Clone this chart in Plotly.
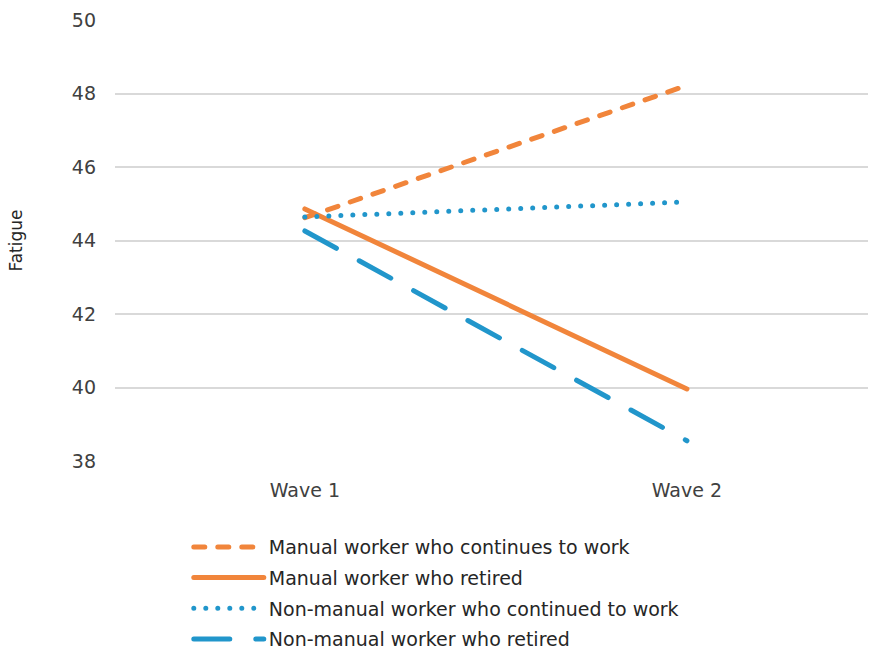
import plotly.graph_objects as go

# Fatigue scores at two survey waves, by occupation and retirement status
waves = ["Wave 1", "Wave 2"]
manual_continues = [44.62, 48.22]
manual_retired = [44.86, 39.96]
nonmanual_continued = [44.64, 45.05]
nonmanual_retired = [44.26, 38.55]

y_ticks = [38, 40, 42, 44, 46, 48, 50]

ORANGE = "#F1853B"
BLUE = "#2196CB"
FONT = "'DejaVu Sans', sans-serif"

series = [
    ("Manual worker who continues to work", manual_continues, ORANGE, "11px,13px"),
    ("Manual worker who retired", manual_retired, ORANGE, "solid"),
    ("Non-manual worker who continued to work", nonmanual_continued, BLUE, "0px,12px"),
    ("Non-manual worker who retired", nonmanual_retired, BLUE, "36px,26px"),
]

fig = go.Figure()
for i, (name, vals, color, dash) in enumerate(series):
    fig.add_trace(go.Scatter(
        x=waves, y=vals, mode="lines", name=name,
        legendgroup=f"g{i}",
        line=dict(color=color, width=5, dash=dash),
        hoverinfo="skip",
    ))

fig.update_layout(
    width=874, height=652,
    margin=dict(l=115, r=6, t=20, b=191, autoexpand=False),
    paper_bgcolor="white", plot_bgcolor="white",
    font=dict(family=FONT, size=19, color="#404040"),
    showlegend=True,
    legend=dict(
        orientation="v", x=0.098, xanchor="left", y=-0.152, yanchor="top",
        font=dict(family=FONT, size=19, color="#262626"),
        itemwidth=70, tracegroupgap=3, bgcolor="rgba(0,0,0,0)",
        traceorder="grouped",
    ),
    xaxis=dict(
        type="category", range=[-0.497, 1.474],
        showgrid=False, showline=False, zeroline=False,
        ticks="", ticklabelstandoff=16,
        tickfont=dict(size=19, color="#404040"),
    ),
    yaxis=dict(
        range=[38, 50], tickvals=y_ticks,
        showgrid=True, gridcolor="#D9D9D9", gridwidth=1.5,
        zeroline=False, showline=False, ticks="",
        ticklabelstandoff=18,
        tickfont=dict(size=19, color="#404040"),
        title=dict(text="Fatigue", font=dict(size=17, color="#262626"), standoff=44),
    ),
)

# Rounded ends on the drawn strokes (dots and dashes)
post = """
var s = document.createElement('style');
s.textContent = '.js-line, .legendlines path { stroke-linecap: round; }';
document.head.appendChild(s);
"""
fig.write_html("out.html", post_script=post)
